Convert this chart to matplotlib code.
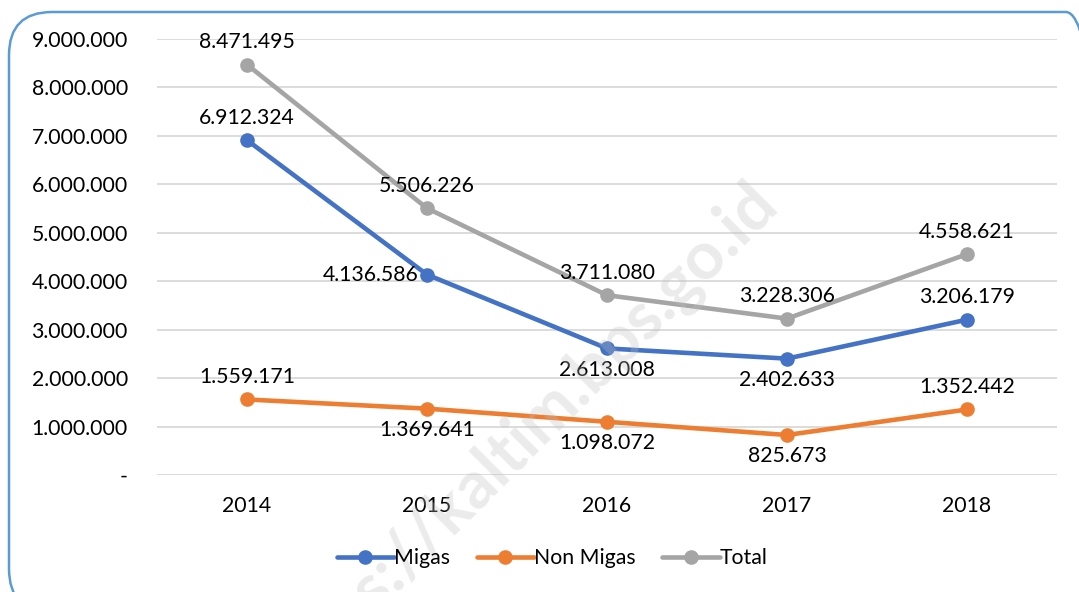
import matplotlib
matplotlib.use("Agg")
import matplotlib.pyplot as plt
from matplotlib.patches import FancyBboxPatch
from matplotlib.ticker import FuncFormatter

years = ["2014", "2015", "2016", "2017", "2018"]
migas = [6912324, 4136586, 2613008, 2402633, 3206179]
non_migas = [1559171, 1369641, 1098072, 825673, 1352442]
total = [8471495, 5506226, 3711080, 3228306, 4558621]

plt.rcParams['font.family'] = ['Lato', 'DejaVu Sans']
FS = 15.3

fig = plt.figure(figsize=(10.79, 5.92), dpi=100)
ax = fig.add_axes([157/1079, 1-475/592, 900/1079, 436/592])

def fmt(v):
    return f"{v:,.0f}".replace(",", ".")

x = list(range(len(years)))
series = [
    ("Migas", migas, "#4472C4", ["above", "left", "below", "below", "above"]),
    ("Non Migas", non_migas, "#ED7D31", ["above", "below", "below", "below", "above"]),
    ("Total", total, "#A5A5A5", ["above", "above", "above", "above", "above"]),
]
order = [2, 0, 1]
for idx in order:
    name, vals, col, pos = series[idx]
    ax.plot(x, vals, color=col, lw=3.3, marker="o", ms=9.5, label=name,
            clip_on=False, zorder=3, solid_capstyle="round")
for name, vals, col, pos in series:
    for xi, v, p in zip(x, vals, pos):
        if p == "above":
            ax.annotate(fmt(v), (xi, v), xytext=(0, 9), textcoords="offset points",
                        ha="center", va="bottom", fontsize=FS, color="#000000", zorder=5)
        elif p == "below":
            ax.annotate(fmt(v), (xi, v), xytext=(0, -8), textcoords="offset points",
                        ha="center", va="top", fontsize=FS, color="#000000", zorder=5)
        else:
            ax.annotate(fmt(v), (xi, v), xytext=(-6, 0), textcoords="offset points",
                        ha="right", va="center", fontsize=FS, color="#000000", zorder=5)

ax.set_xlim(-0.5, 4.5)
ax.set_ylim(0, 9000000)
ax.set_yticks(range(0, 9000001, 1000000))
ax.yaxis.set_major_formatter(FuncFormatter(lambda v, p: "-" if v == 0 else fmt(v)))
ax.set_xticks(x)
ax.set_xticklabels(years)
ax.tick_params(axis="y", length=0, pad=21, labelsize=FS)
ax.tick_params(axis="x", length=0, pad=15, labelsize=FS)
ax.grid(axis="y", color="#D9D9D9", lw=1.3)
ax.set_axisbelow(True)
for s in ax.spines.values():
    s.set_visible(False)

handles, labels = ax.get_legend_handles_labels()
hmap = dict(zip(labels, handles))
leg = fig.legend([hmap["Migas"], hmap["Non Migas"], hmap["Total"]], ["Migas", "Non Migas", "Total"],
                 loc="center", bbox_to_anchor=(552/1079, 1-558/592), ncol=3, frameon=False,
                 fontsize=FS, handlelength=2.7, handletextpad=0.0, columnspacing=1.25)

# border
box = FancyBboxPatch((9/1079, -20/592), 1100/1079, 600/592,
                     boxstyle="round,pad=0,rounding_size=0.04",
                     transform=fig.transFigure, fill=False, edgecolor="#5B9BD5", lw=1.8,
                     mutation_aspect=1079/592, zorder=0)
fig.patches.append(box)

fig.text(520/1079, 1-440/592, "https://kaltim.bps.go.id", rotation=45, fontsize=48,
         fontweight="bold", color="#BFBFBF", alpha=0.3, ha="center", va="center", zorder=1)

fig.savefig("out.png", dpi=100)
